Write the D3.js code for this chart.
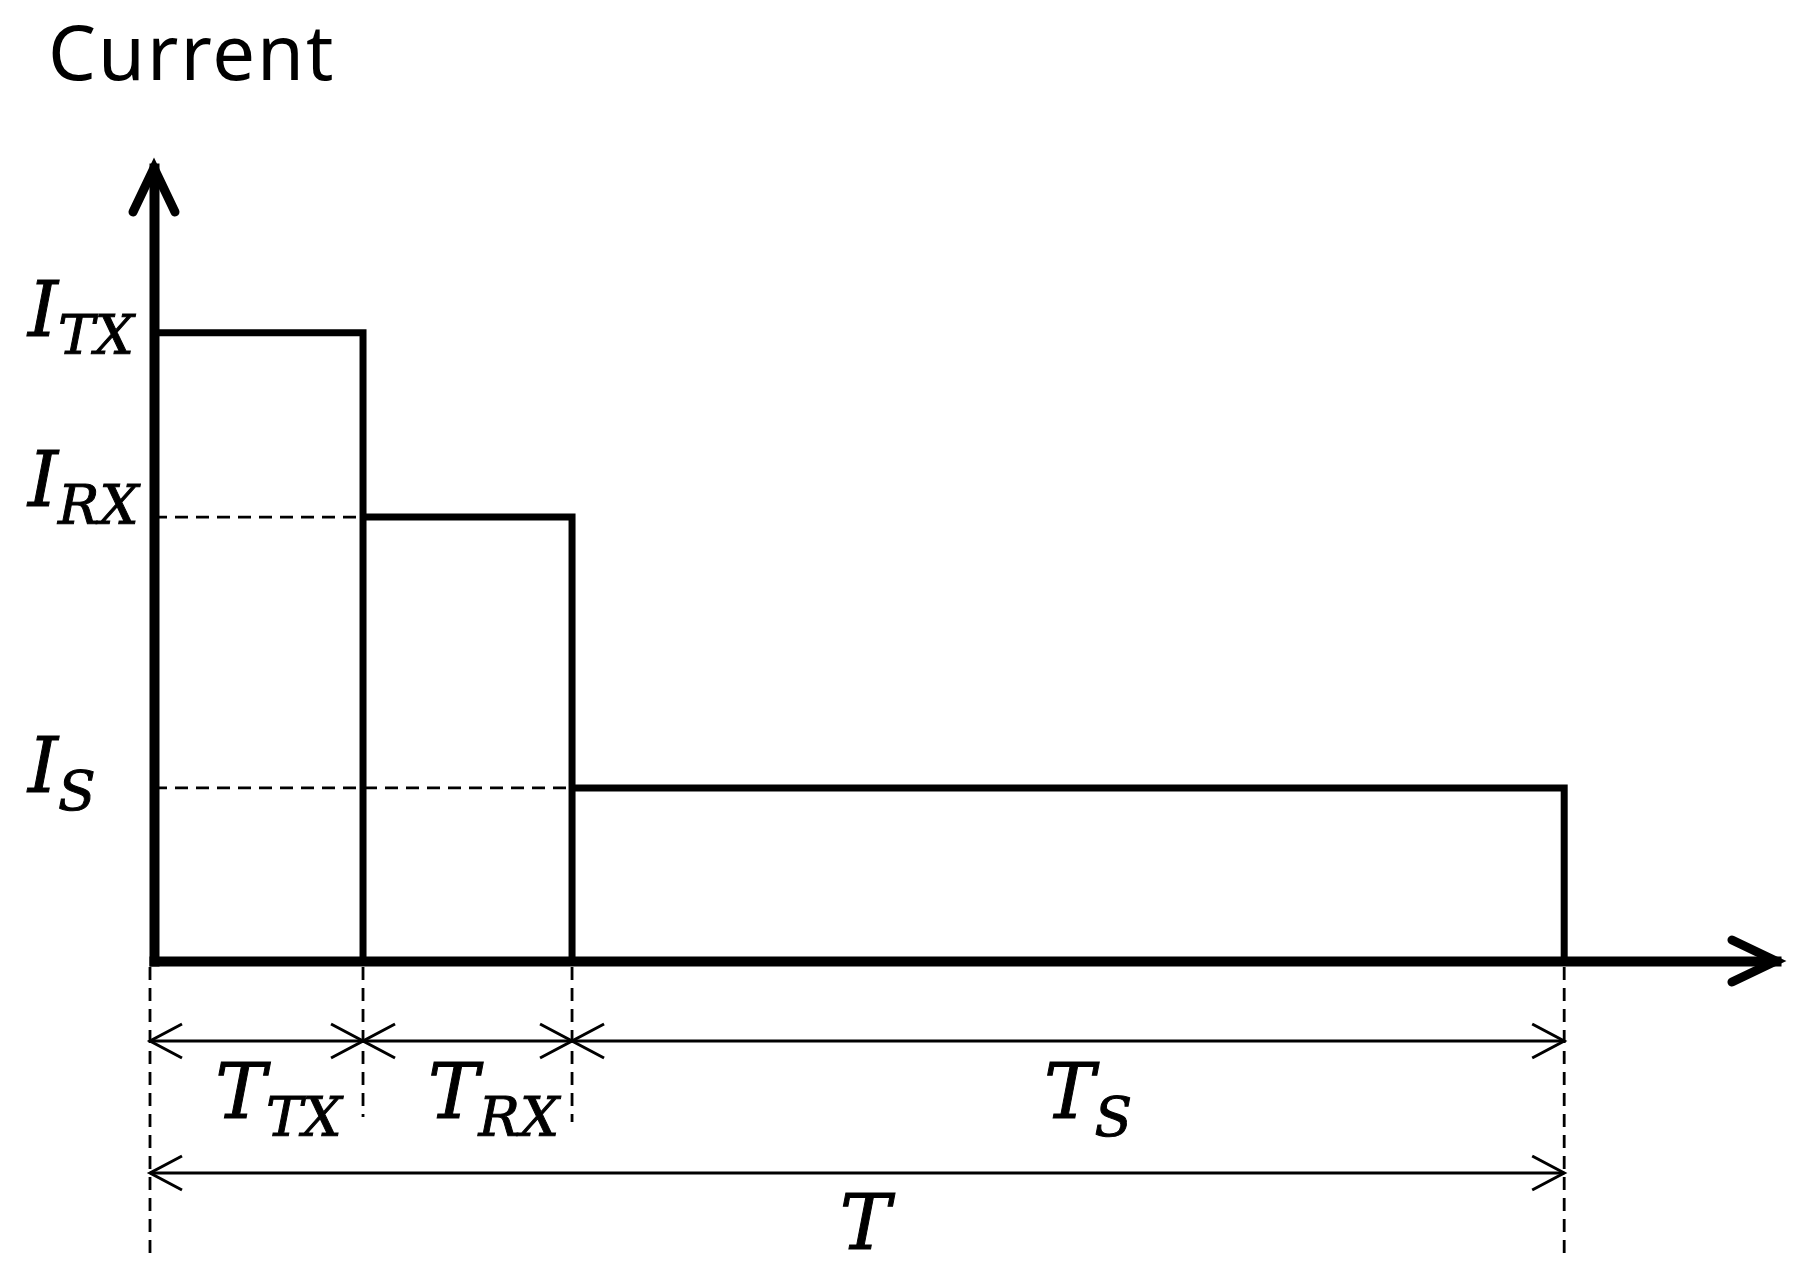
<!DOCTYPE html>
<html>
<head>
<meta charset="utf-8">
<script src="https://cdn.jsdelivr.net/npm/d3@7"></script>
<style>
body { margin: 0; background: #fff; }
</style>
</head>
<body>
<div id="chart"></div>
<script>
// values (arbitrary units)
var phases = ["TX", "RX", "S"];
var durations = [1.5, 1.5, 7.12];
var levels = [4.5, 3.18, 1.24];
var levelSymbol = "I";
var timeSymbol = "T";
var totalLabel = "T";
var axisTitle = "Current";
var xMax = 11.64, yMax = 5.68;

// layout
var width = 1794, height = 1281;
var dimRow1 = 1041, dimRow2 = 1173;
var extEnds = [1255, 1117, 1122, 1255];
var levelLabelDy = [3, -11, 4];
var timeLabelDx = [20, 26, 20];
var mathFont = "'DejaVu Serif', serif";

var svg = d3.select("#chart")
	.append("svg")
	.attr("width", width)
	.attr("height", height);

var x = d3.scaleLinear().domain([0, xMax]).range([154, 1776]);
var y = d3.scaleLinear().domain([0, yMax]).range([961, 168]);

var starts = [];
var acc = 0;
durations.forEach(function(d) { starts.push(acc); acc += d; });
var total = acc;

var steps = phases.map(function(p, i) {
	return { name: p, t0: starts[i], t1: starts[i] + durations[i], level: levels[i] };
});

// dashed guides from the axis to each level
svg.selectAll(".guide")
	.data(steps.slice(1))
	.enter().append("line")
	.attr("x1", x(0))
	.attr("x2", function(d) { return x(d.t0); })
	.attr("y1", function(d) { return y(d.level); })
	.attr("y2", function(d) { return y(d.level); })
	.attr("stroke", "#000")
	.attr("stroke-width", 2.8)
	.attr("stroke-dasharray", "13 8");

// extension lines under the axis
var bounds = [0].concat(steps.map(function(d) { return d.t1; }));
svg.selectAll(".ext")
	.data(bounds)
	.enter().append("line")
	.attr("x1", function(d, i) { return i == 0 ? x(d) - 4 : x(d); })
	.attr("x2", function(d, i) { return i == 0 ? x(d) - 4 : x(d); })
	.attr("y1", y(0) + 6)
	.attr("y2", function(d, i) { return extEnds[i]; })
	.attr("stroke", "#000")
	.attr("stroke-width", 2.8)
	.attr("stroke-dasharray", "13 8");

// the current steps
svg.selectAll(".step")
	.data(steps)
	.enter().append("path")
	.attr("d", function(d) {
		return d3.line()([[x(d.t0), y(d.level)], [x(d.t1), y(d.level)], [x(d.t1), y(0)]]);
	})
	.attr("fill", "none")
	.attr("stroke", "#000")
	.attr("stroke-width", 7)
	.attr("stroke-linejoin", "miter");

// axes
var xAxis = svg.append("g")
	.attr("transform", "translate(0," + y(0) + ")")
	.call(d3.axisBottom(x).tickValues([]).tickSizeOuter(0));
var yAxis = svg.append("g")
	.attr("transform", "translate(" + x(0) + ",0)")
	.call(d3.axisLeft(y).tickValues([]).tickSizeOuter(0));
svg.selectAll(".domain")
	.attr("stroke", "#000")
	.attr("stroke-width", 10)
	.attr("stroke-linecap", "square");

function openHead(tipX, tipY, dx, dy, w) {
	// dx,dy = direction of the arrow (unit), w = stroke width
	var len = 44, half = 21;
	if (w < 5) { len = 32; half = 17; }
	var bx = tipX - dx * len, by = tipY - dy * len;
	var px = -dy * half, py = dx * half;
	svg.append("path")
		.attr("d", d3.line()([[bx + px, by + py], [tipX, tipY], [bx - px, by - py]]))
		.attr("fill", "none")
		.attr("stroke", "#000")
		.attr("stroke-width", w)
		.attr("stroke-linecap", w < 5 ? "butt" : "round")
		.attr("stroke-linejoin", "miter");
}

openHead(x(0), y(yMax), 0, -1, 9);
openHead(x(xMax), y(0), 1, 0, 9);

// dimension lines
function dimLine(x1, x2, yy) {
	svg.append("line")
		.attr("x1", x1).attr("x2", x2)
		.attr("y1", yy).attr("y2", yy)
		.attr("stroke", "#000")
		.attr("stroke-width", 3.2);
	openHead(x1, yy, -1, 0, 3);
	openHead(x2, yy, 1, 0, 3);
}

steps.forEach(function(d, i) {
	dimLine(i == 0 ? x(d.t0) - 4 : x(d.t0), x(d.t1), dimRow1);
});
dimLine(x(0) - 4, x(total), dimRow2);

// labels
function mathLabel(px, py, anchor, main, sub) {
	var t = svg.append("text")
		.attr("x", px)
		.attr("y", py)
		.attr("text-anchor", anchor)
		.attr("font-family", mathFont)
		.attr("font-style", "italic")
		.attr("fill", "#000")
		.attr("stroke", "#000")
		.attr("stroke-width", 1);
	t.append("tspan").attr("font-size", 76).text(main);
	if (sub) {
		t.append("tspan").attr("font-size", 55).attr("dy", 18).text(sub);
	}
}

steps.forEach(function(d, i) {
	mathLabel(28, y(d.level) + levelLabelDy[i], "start", levelSymbol, d.name);
	mathLabel((x(d.t0) + x(d.t1)) / 2 + timeLabelDx[i], 1118, "middle", timeSymbol, d.name);
});
mathLabel((x(0) + x(total)) / 2 + 6, 1249, "middle", totalLabel, null);

svg.append("text")
	.attr("x", 48)
	.attr("y", 80)
	.attr("font-family", "'Noto Sans', sans-serif")
	.attr("font-size", 76)
	.attr("letter-spacing", 2)
	.attr("fill", "#000")
	.text(axisTitle);
</script>
</body>
</html>
